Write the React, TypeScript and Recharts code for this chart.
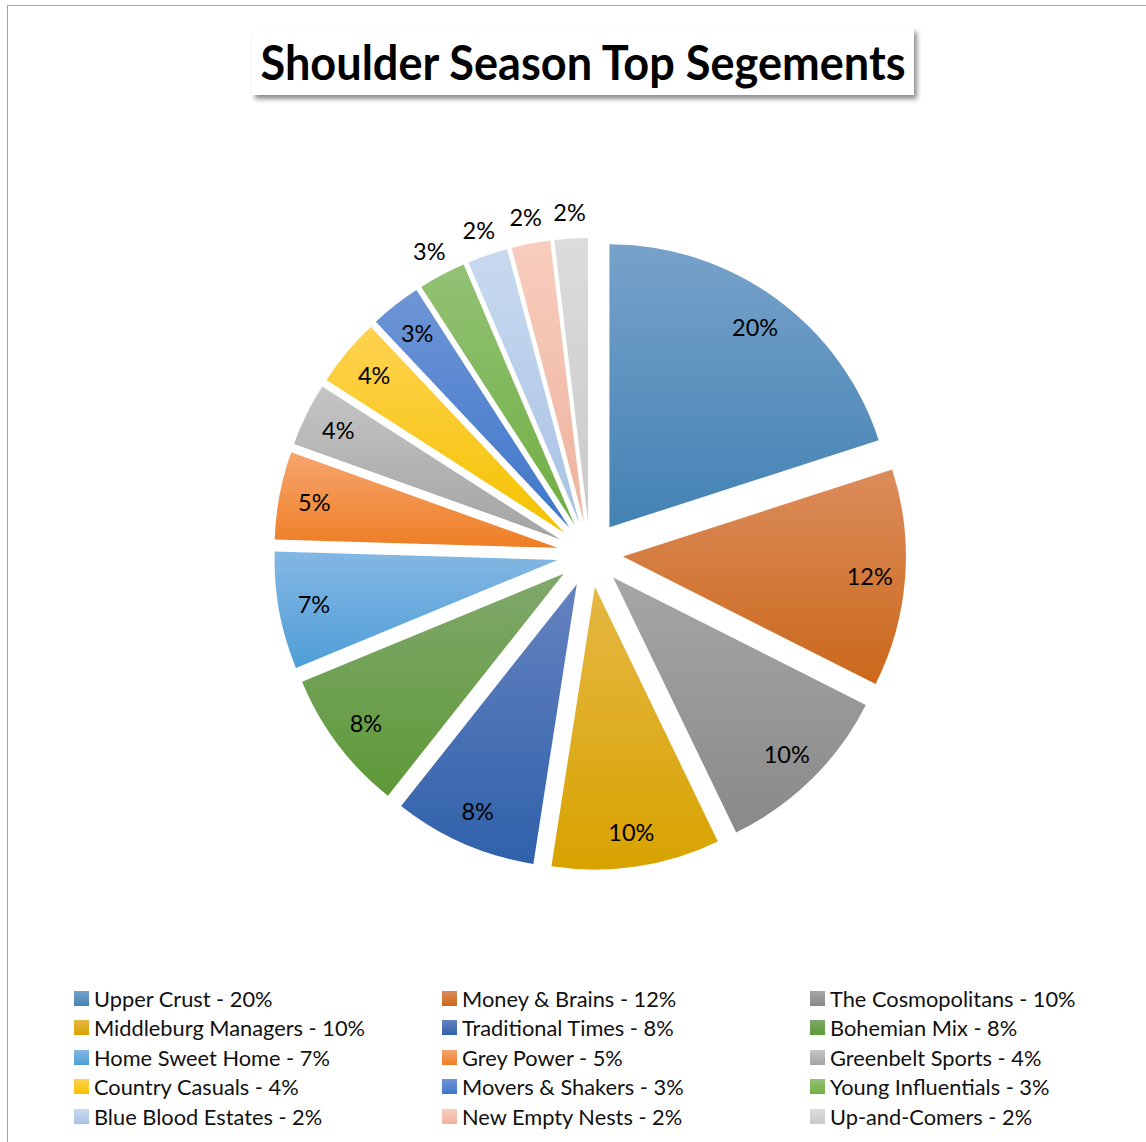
import React from 'react';
import { PieChart, Pie, Cell, Legend } from 'recharts';

const TITLE = 'Shoulder Season Top Segements';

const segments = [
  'Upper Crust',
  'Money & Brains',
  'The Cosmopolitans',
  'Middleburg Managers',
  'Traditional Times',
  'Bohemian Mix',
  'Home Sweet Home',
  'Grey Power',
  'Greenbelt Sports',
  'Country Casuals',
  'Movers & Shakers',
  'Young Influentials',
  'Blue Blood Estates',
  'New Empty Nests',
  'Up-and-Comers',
];

// shares (labels show them rounded)
const shares = [20, 12.4, 10.4, 9.6, 8.2, 8.1, 6.7, 5.0, 3.6, 3.9, 2.9, 2.7, 2.3, 2.2, 1.9];

const topColors = [
  '#77a2ca', '#dc8c5c', '#a6a6a6', '#e5b744', '#6582c0', '#80a86c', '#84b7e3', '#f6a56e',
  '#c5c5c5', '#ffd251', '#6f95d6', '#93c275', '#c8daef', '#f8cdbd', '#dcdcdc',
];
const bottomColors = [
  '#4382b4', '#cb681b', '#898989', '#d8a300', '#2f61aa', '#5e9938', '#4f9ed8', '#ee7e24',
  '#a3a3a3', '#f4c300', '#3e77ca', '#70ae42', '#a8c2e5', '#eeb39e', '#c9c9c9',
];

const total = shares.reduce((a, b) => a + b, 0);
const pct = (v: number) => Math.round((v / total) * 100);

const data = segments.map((name, i) => ({ name, value: shares[i] }));

const W = 1146;
const H = 1142;
const CX = 590;
const CY = 554;
const R = 283;
const EXPLODE = 33;
const OUTSIDE_FROM = 11;
const RAD = Math.PI / 180;
const FONT = 'Lato, "Open Sans", sans-serif';
const LEG_X = [74, 442, 810];

function offsetFor(i: number): [number, number] {
  let before = 0;
  for (let k = 0; k < i; k++) before += shares[k];
  const mid = 90 - (360 * (before + shares[i] / 2)) / total;
  return [Math.cos(mid * RAD) * EXPLODE, -Math.sin(mid * RAD) * EXPLODE];
}

const renderLabel = (props: any) => {
  const { cx, cy, midAngle, outerRadius, index, value } = props;
  const dx = Math.cos(-midAngle * RAD);
  const dy = Math.sin(-midAngle * RAD);
  const t = index >= OUTSIDE_FROM ? outerRadius + 27 : outerRadius * 0.875;
  const x = cx + dx * (EXPLODE + t);
  const y = cy + dy * (EXPLODE + t);
  return (
    <text
      x={x}
      y={y}
      textAnchor="middle"
      dominantBaseline="central"
      fontFamily={FONT}
      fontSize={23.5}
      fill="#000"
    >
      {pct(value)}%
    </text>
  );
};

const renderLegend = () => (
  <div style={{ position: 'relative', width: W, height: 150, fontFamily: FONT, fontSize: 21.8, color: '#111' }}>
    {data.map((d, i) => {
      const col = i % 3;
      const row = Math.floor(i / 3);
      return (
        <div
          key={d.name}
          style={{
            position: 'absolute',
            left: LEG_X[col],
            top: row * 29.5,
            height: 26,
            display: 'flex',
            alignItems: 'center',
            whiteSpace: 'nowrap',
          }}
        >
          <span
            style={{
              display: 'inline-block',
              width: 15,
              height: 15,
              marginRight: 5,
              background: `linear-gradient(${topColors[i]}, ${bottomColors[i]})`,
            }}
          />
          <span>{`${d.name} - ${pct(d.value)}%`}</span>
        </div>
      );
    })}
  </div>
);

export default function App() {
  return (
    <div
      style={{
        position: 'absolute',
        left: 0,
        top: 0,
        width: W,
        height: H,
        overflow: 'hidden',
        background: '#fff',
      }}
    >
      <div
        style={{
          position: 'absolute',
          left: 7,
          top: 5,
          width: W + 50,
          height: H + 50,
          borderTop: '1.5px solid #a3a3a3',
          borderLeft: '1.5px solid #a3a3a3',
        }}
      />
      <svg width={W} height={140} style={{ position: 'absolute', left: 0, top: 0 }}>
        <defs>
          <filter id="titleShadow" x="-10%" y="-30%" width="120%" height="170%">
            <feDropShadow dx="3" dy="4" stdDeviation="2.5" floodColor="#000" floodOpacity="0.45" />
          </filter>
        </defs>
        <rect x={252} y={28} width={662} height={67} fill="#fff" filter="url(#titleShadow)" />
        <text
          x={583}
          y={80}
          textAnchor="middle"
          fontFamily={FONT}
          fontWeight={700}
          fontSize={47}
          fill="#000"
          textLength={645}
          lengthAdjust="spacingAndGlyphs"
        >
          {TITLE}
        </text>
      </svg>
      <div style={{ position: 'absolute', left: 0, top: 0 }}>
        <PieChart width={W} height={H} margin={{ top: 0, right: 0, bottom: 0, left: 0 }}>
          <defs>
            {data.map((d, i) => (
              <linearGradient key={d.name} id={`grad${i}`} x1="0" y1="0" x2="0" y2="1">
                <stop offset="0%" stopColor={topColors[i]} />
                <stop offset="100%" stopColor={bottomColors[i]} />
              </linearGradient>
            ))}
          </defs>
          <Pie
            data={data}
            dataKey="value"
            nameKey="name"
            cx={CX}
            cy={CY}
            outerRadius={R}
            startAngle={90}
            endAngle={-270}
            stroke="none"
            label={renderLabel}
            labelLine={false}
            isAnimationActive={false}
          >
            {data.map((d, i) => {
              const [ox, oy] = offsetFor(i);
              return (
                <Cell
                  key={d.name}
                  fill={`url(#grad${i})`}
                  transform={`translate(${ox.toFixed(2)}, ${oy.toFixed(2)})`}
                />
              );
            })}
          </Pie>
          <Legend
            content={renderLegend}
            wrapperStyle={{ position: 'absolute', left: 0, top: 985, width: W, height: 150 }}
          />
        </PieChart>
      </div>
    </div>
  );
}
